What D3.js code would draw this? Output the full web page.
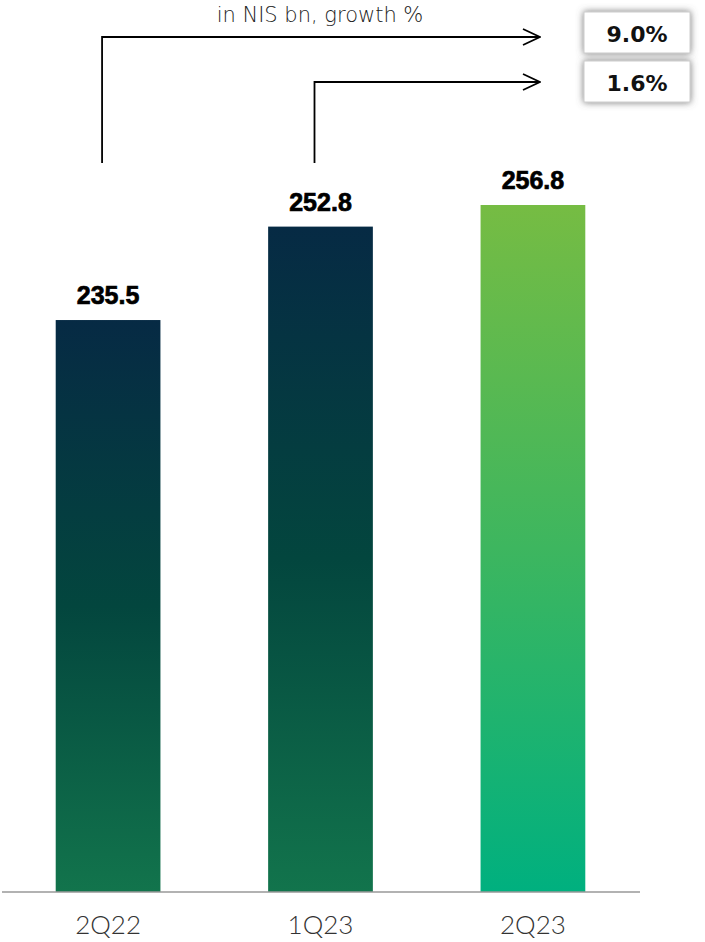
<!DOCTYPE html>
<html><head><meta charset="utf-8">
<script src="https://cdn.jsdelivr.net/npm/d3@7"></script>
<style>body{margin:0;background:#fff}svg{display:block}</style>
</head><body>
<script>
const categories = ["2Q22", "1Q23", "2Q23"];
const values = [235.5, 252.8, 256.8];
const growthLabels = ["9.0%", "1.6%"];
const growthFrom = ["2Q22", "1Q23"];
const title = "in NIS bn, growth %";

const W = 705, H = 942;
const svg = d3.select("body").append("svg").attr("width", W).attr("height", H);
const defs = svg.append("defs");
const g1 = defs.append("linearGradient").attr("id","gDark").attr("x1",0).attr("y1",0).attr("x2",0).attr("y2",1);
g1.append("stop").attr("offset","0%").attr("stop-color","#062a44");
g1.append("stop").attr("offset","50%").attr("stop-color","#03463e");
g1.append("stop").attr("offset","100%").attr("stop-color","#12744c");
const g2 = defs.append("linearGradient").attr("id","gLight").attr("x1",0).attr("y1",0).attr("x2",0).attr("y2",1);
g2.append("stop").attr("offset","0%").attr("stop-color","#76bc43");
g2.append("stop").attr("offset","50%").attr("stop-color","#3db65f");
g2.append("stop").attr("offset","100%").attr("stop-color","#00b07f");
const f = defs.append("filter").attr("id","sh").attr("x","-30%").attr("y","-40%").attr("width","160%").attr("height","180%");
f.append("feDropShadow").attr("dx",0).attr("dy",0).attr("stdDeviation",3.5).attr("flood-color","#666").attr("flood-opacity",0.9);
const mk = defs.append("marker").attr("id","arr").attr("viewBox","0 0 20 20").attr("refX",19).attr("refY",10)
  .attr("markerWidth",20).attr("markerHeight",20).attr("markerUnits","userSpaceOnUse").attr("orient","auto");
mk.append("path").attr("d","M2,2 L19,10 L2,18").attr("fill","none").attr("stroke","#000").attr("stroke-width",1.8);

const x = d3.scaleBand().domain(categories).range([1.75, 639.25]).paddingInner(0.507).paddingOuter(0.254);
const y = d3.scaleLinear().domain([129.6, 256.8]).range([892, 205]);

svg.selectAll("rect.bar").data(categories).join("rect").attr("class","bar")
  .attr("x", d => x(d)).attr("width", x.bandwidth())
  .attr("y", (d,i) => y(values[i])).attr("height", (d,i) => y(y.domain()[0]) - y(values[i]))
  .attr("fill", (d,i) => i === categories.length-1 ? "url(#gLight)" : "url(#gDark)");

svg.selectAll("text.val").data(categories).join("text").attr("class","val")
  .attr("x", d => x(d) + x.bandwidth()/2).attr("y", (d,i) => y(values[i]) - 16)
  .attr("text-anchor","middle").attr("font-family","Liberation Sans, Arial, sans-serif")
  .attr("font-weight","bold").attr("font-size",25).attr("fill","#000")
  .attr("stroke","#000").attr("stroke-width",0.7)
  .text((d,i) => values[i].toFixed(1));

// axis
const xAxis = svg.append("g").attr("transform","translate(0,892)").call(d3.axisBottom(x).tickSize(0).tickPadding(24));
xAxis.select(".domain").attr("stroke","#999").attr("stroke-width",1.5).attr("d","M2,0H640");
xAxis.selectAll("text").attr("font-family","Lato, 'Open Sans', sans-serif").attr("font-weight",300)
  .attr("font-size",26).attr("fill","#333");

// title
svg.append("text").attr("x",320).attr("y",22).attr("text-anchor","middle")
  .attr("font-family","'DejaVu Sans', sans-serif").attr("font-weight",200).attr("font-size",21).attr("fill","#222").text(title);

// growth arrows
const arrowY = [37, 82];
const boxY = [12, 61];
growthFrom.forEach((c,i) => {
  const sx = x(c) + x.bandwidth()/2 - 6;
  svg.append("path").attr("d", `M${sx},163 V${arrowY[i]} H540`).attr("fill","none")
    .attr("stroke","#000").attr("stroke-width",1.8).attr("marker-end","url(#arr)");
  svg.append("rect").attr("x",584).attr("y",boxY[i]).attr("width",106).attr("height",41)
    .attr("fill","#fff").attr("stroke","#ccc").attr("stroke-width",1).attr("filter","url(#sh)");
  svg.append("text").attr("x",637).attr("y",boxY[i]+30).attr("text-anchor","middle")
    .attr("font-family","'DejaVu Sans', sans-serif").attr("font-weight","bold").attr("font-size",22)
    .attr("fill","#111").text(growthLabels[i]);
});
</script>
</body></html>
